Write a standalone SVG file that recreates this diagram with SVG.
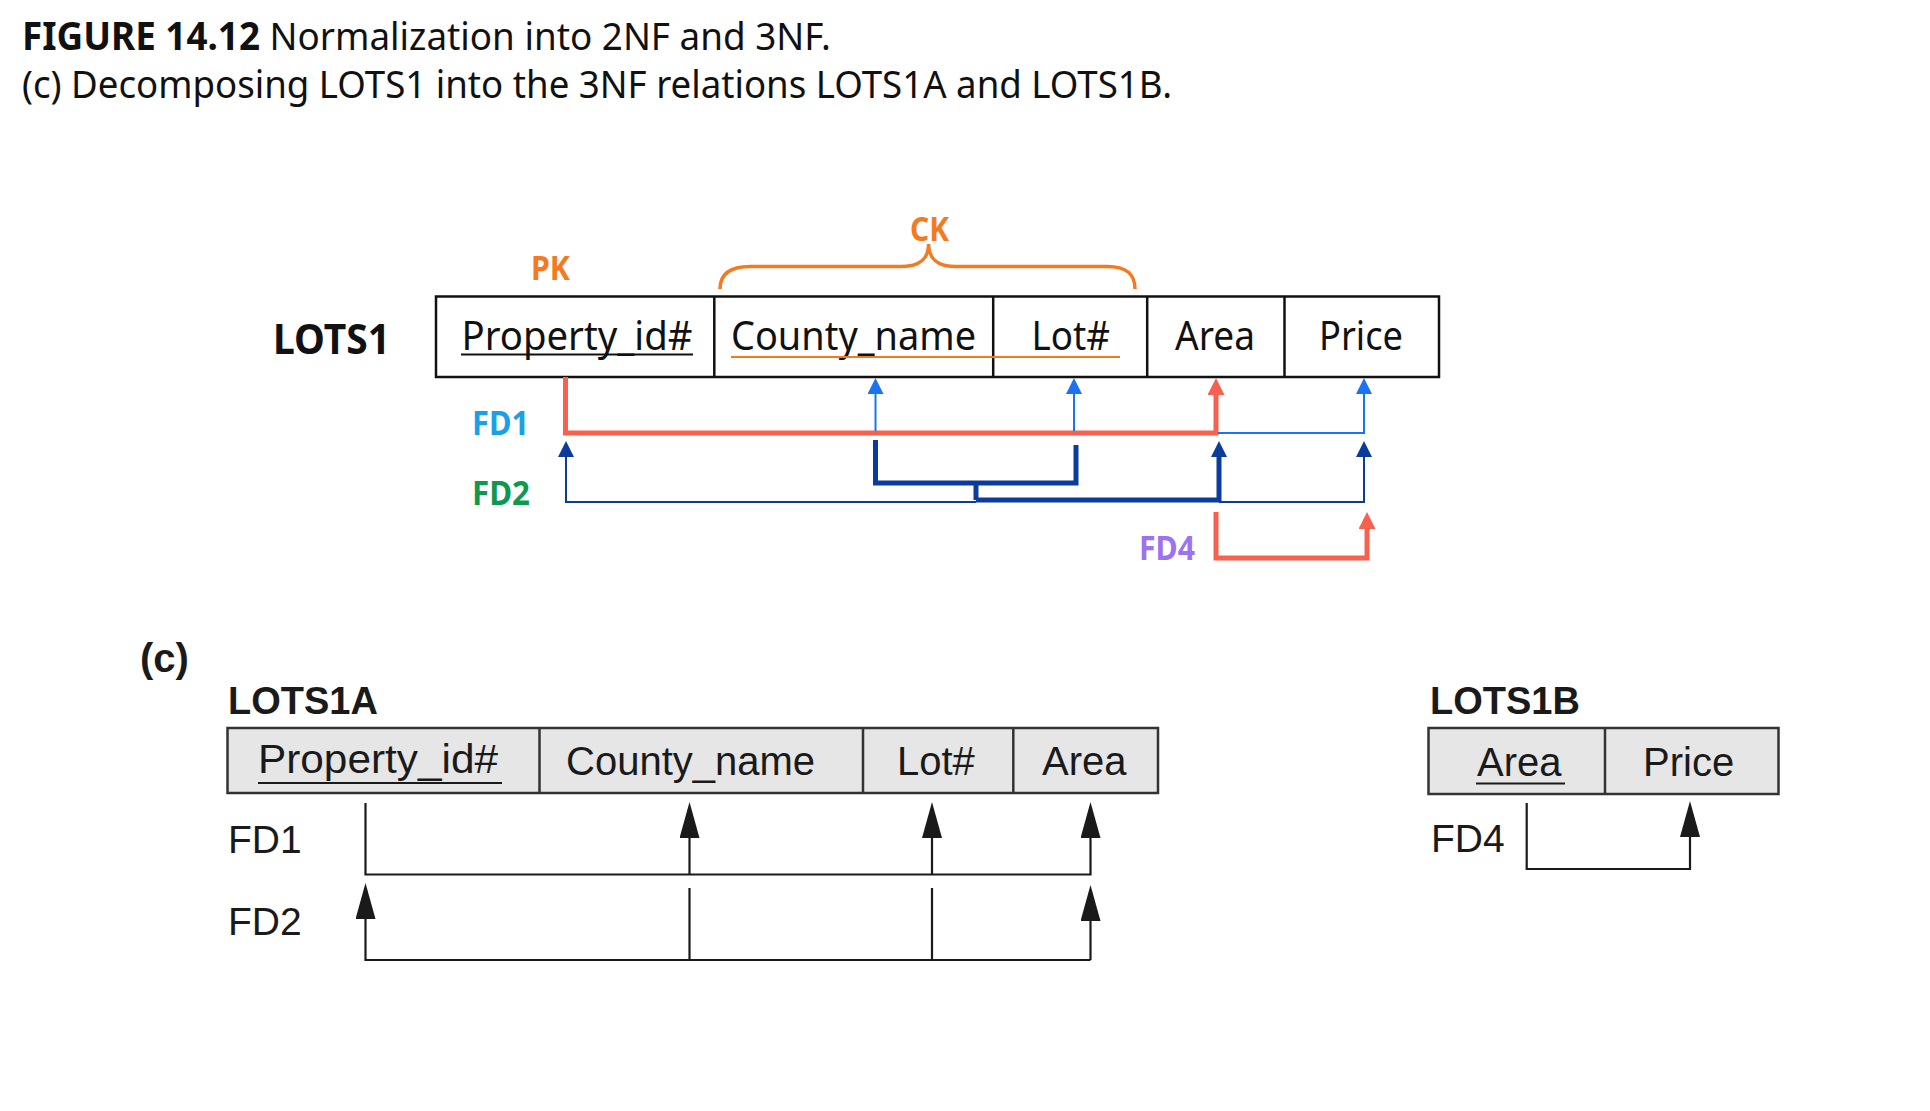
<svg xmlns="http://www.w3.org/2000/svg" width="1930" height="1111" viewBox="0 0 1930 1111">
<style>
.ttl{font-family:"Noto Sans",sans-serif;font-size:39px;fill:#111}
.ttlb{font-weight:bold}
.ns{font-family:"Noto Sans",sans-serif;fill:#111}
.attr{font-size:40px}
.lbl{font-size:34px;font-weight:bold}
.hv{font-family:"Liberation Sans",Arial,sans-serif;fill:#1a1a1a}
.hattr{font-size:40px}
.hname{font-size:38px;font-weight:bold}
.cell{fill:#fff;stroke:#111;stroke-width:2.5}
.gcell{fill:#e6e6e6;stroke:#333;stroke-width:2.5}
.div{stroke:#111;stroke-width:2.5}
.gdiv{stroke:#333;stroke-width:2.5}
.red{fill:none;stroke:#f9614f;stroke-width:5}
.blue{fill:none;stroke:#1a73f0;stroke-width:2}
.navy{fill:none;stroke:#0b3c9c;stroke-width:2}
.navyT{fill:none;stroke:#0b3c9c;stroke-width:5}
.blk{fill:none;stroke:#1a1a1a;stroke-width:2.2}
.org{fill:none;stroke:#f47a1f}
</style>
<defs>
<marker id="ahRed" viewBox="0 0 17 17" refX="0" refY="8.5" markerWidth="17" markerHeight="17" orient="auto" markerUnits="userSpaceOnUse"><path d="M0,0 L17,8.5 L0,17 z" fill="#f9614f"/></marker>
<marker id="ahBlue" viewBox="0 0 16 16" refX="0" refY="8" markerWidth="16" markerHeight="16" orient="auto" markerUnits="userSpaceOnUse"><path d="M0,0 L16,8 L0,16 z" fill="#1a73f0"/></marker>
<marker id="ahNavy" viewBox="0 0 16 16" refX="0" refY="8" markerWidth="16" markerHeight="16" orient="auto" markerUnits="userSpaceOnUse"><path d="M0,0 L16,8 L0,16 z" fill="#0b3c9c"/></marker>
<marker id="ahBlk" viewBox="0 0 36 20" refX="0" refY="10" markerWidth="36" markerHeight="20" orient="auto" markerUnits="userSpaceOnUse"><path d="M0,0 L36,10 L0,20 z" fill="#1a1a1a"/></marker>
</defs>
<rect width="1930" height="1111" fill="#fff"/>

<g id="title">
<text class="ttl" x="22" y="50" textLength="809" lengthAdjust="spacingAndGlyphs"><tspan class="ttlb">FIGURE 14.12</tspan> Normalization into 2NF and 3NF.</text>
<text class="ttl" x="22" y="98" textLength="1150" lengthAdjust="spacingAndGlyphs">(c) Decomposing LOTS1 into the 3NF relations LOTS1A and LOTS1B.</text>
</g>

<g id="lots1">
<text class="ns" x="273" y="354" font-size="42" font-weight="bold" textLength="117" lengthAdjust="spacingAndGlyphs">LOTS1</text>
<rect class="cell" x="436" y="296.5" width="1003" height="80.5"/>
<line class="div" x1="714.3" y1="296.5" x2="714.3" y2="377"/>
<line class="div" x1="993.2" y1="296.5" x2="993.2" y2="377"/>
<line class="div" x1="1147.2" y1="296.5" x2="1147.2" y2="377"/>
<line class="div" x1="1284.5" y1="296.5" x2="1284.5" y2="377"/>
<text class="ns attr" x="461.5" y="350" textLength="231" lengthAdjust="spacingAndGlyphs">Property_id#</text>
<line x1="461" y1="354.5" x2="693" y2="354.5" stroke="#111" stroke-width="2"/>
<text class="ns attr" x="731" y="350" textLength="245" lengthAdjust="spacingAndGlyphs">County_name</text>
<text class="ns attr" x="1031.5" y="350" textLength="78.5" lengthAdjust="spacingAndGlyphs">Lot#</text>
<text class="ns attr" x="1175" y="350" textLength="80" lengthAdjust="spacingAndGlyphs">Area</text>
<text class="ns attr" x="1319" y="350" textLength="84" lengthAdjust="spacingAndGlyphs">Price</text>
<line x1="731" y1="357" x2="1120" y2="357" stroke="#f47a1f" stroke-width="2.2"/>
</g>

<g id="keys">
<text class="ns lbl" x="531" y="280" textLength="39" lengthAdjust="spacingAndGlyphs" style="fill:#f47a1f">PK</text>
<text class="ns lbl" x="910" y="241" textLength="39" lengthAdjust="spacingAndGlyphs" style="fill:#f47a1f">CK</text>
<path class="org" stroke-width="3.5" d="M720 289 C720 274 730 266.5 750 266.5 H902 C920 266.5 928.6 258 928.6 244 C928.6 258 937 266.5 955 266.5 H1107 C1127 266.5 1135 274 1135 289"/>
</g>

<g id="fdlabels">
<text class="ns lbl" x="472" y="435" textLength="57" lengthAdjust="spacingAndGlyphs" style="fill:#1ba0e8">FD1</text>
<text class="ns lbl" x="472" y="505" textLength="58" lengthAdjust="spacingAndGlyphs" style="fill:#0e9a4e">FD2</text>
<text class="ns lbl" x="1139" y="560" textLength="56" lengthAdjust="spacingAndGlyphs" style="fill:#9b72f2">FD4</text>
</g>

<g id="connectors">
<path class="red" d="M565.5 377 V433 H1216 V395" marker-end="url(#ahRed)"/>
<path class="blue" d="M875.5 431 V394" marker-end="url(#ahBlue)"/>
<path class="blue" d="M1074 431 V394" marker-end="url(#ahBlue)"/>
<path class="blue" d="M1218 433 H1364 V394" marker-end="url(#ahBlue)"/>
<path class="navy" d="M976 502 H566 V457" marker-end="url(#ahNavy)"/>
<path class="navyT" d="M875.5 440 V483 H1076 V445"/>
<path class="navyT" d="M976 483 V500"/>
<path class="navyT" d="M976 500 H1219 V457" marker-end="url(#ahNavy)"/>
<path class="navy" d="M1219 502 H1364 V457" marker-end="url(#ahNavy)"/>
<path class="red" d="M1216 512 V558 H1367 V529" marker-end="url(#ahRed)"/>

<path class="blk" d="M365.5 803 V874.5 H1090.5 V838" marker-end="url(#ahBlk)"/>
<path class="blk" d="M689.5 874.5 V838" marker-end="url(#ahBlk)"/>
<path class="blk" d="M932 874.5 V838" marker-end="url(#ahBlk)"/>
<path class="blk" d="M1090.5 960 H365.5 V919" marker-end="url(#ahBlk)"/>
<path class="blk" d="M1090.5 960 V921" marker-end="url(#ahBlk)"/>
<path class="blk" d="M689.5 888 V960"/>
<path class="blk" d="M932 888 V960"/>
<path class="blk" d="M1526.7 803 V869 H1690 V837" marker-end="url(#ahBlk)"/>
</g>

<g id="partc">
<text class="hv" x="140" y="672" font-size="40" font-weight="bold">(c)</text>
</g>

<g id="lots1a">
<text class="hv hname" x="228" y="714">LOTS1A</text>
<rect class="gcell" x="227.5" y="728" width="930.5" height="65"/>
<line class="gdiv" x1="539.5" y1="728" x2="539.5" y2="793"/>
<line class="gdiv" x1="863" y1="728" x2="863" y2="793"/>
<line class="gdiv" x1="1013.3" y1="728" x2="1013.3" y2="793"/>
<text class="hv hattr" x="258" y="773" textLength="240" lengthAdjust="spacingAndGlyphs">Property_id#</text>
<line x1="258" y1="783" x2="502" y2="783" stroke="#1a1a1a" stroke-width="2"/>
<text class="hv hattr" x="566" y="775">County_name</text>
<text class="hv hattr" x="897" y="775">Lot#</text>
<text class="hv hattr" x="1042" y="775">Area</text>
<text class="hv" x="228" y="853" font-size="39">FD1</text>
<text class="hv" x="228" y="935" font-size="39">FD2</text>
</g>

<g id="lots1b">
<text class="hv hname" x="1430" y="714">LOTS1B</text>
<rect class="gcell" x="1428.5" y="728" width="350" height="66"/>
<line class="gdiv" x1="1605" y1="728" x2="1605" y2="794"/>
<text class="hv hattr" x="1477" y="776">Area</text>
<line x1="1476" y1="783.5" x2="1565" y2="783.5" stroke="#1a1a1a" stroke-width="2"/>
<text class="hv hattr" x="1643" y="776">Price</text>
<text class="hv" x="1431" y="852" font-size="39">FD4</text>
</g>
</svg>
